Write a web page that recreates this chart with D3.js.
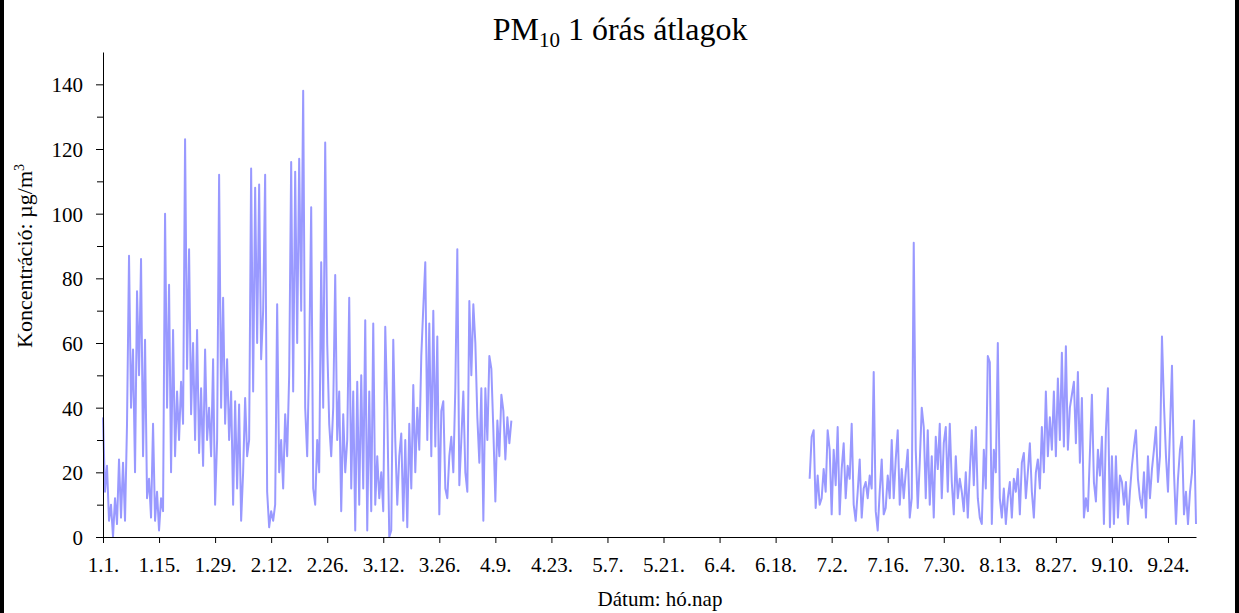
<!DOCTYPE html>
<html>
<head>
<meta charset="utf-8">
<script src="https://cdn.jsdelivr.net/npm/d3@7"></script>
<style>
    body { margin: 0; background: #fff; }
    svg { display: block; }
    text { font-family: "Liberation Serif", "Times New Roman", serif; fill: #000; }
</style>
</head>
<body>
<div id="chart"></div>
<script>
const stepHours = 12;

// 1.1. 00:00 -> 4.13.
const winterStart = '2015-01-01T00:00:00Z';
const winterValues = [
    37, 14, 22, 5, 10, 0, 12, 4, 24, 6, 23, 5, 35, 87, 40, 58, 20, 76, 50, 86,
    25, 61, 12, 18, 6, 35, 5, 14, 2, 12, 8, 100, 40, 78, 20, 64, 25, 45, 30, 48,
    35, 123, 52, 89, 38, 60, 30, 64, 26, 46, 22, 58, 30, 40, 25, 55, 10, 30, 112, 40,
    74, 35, 55, 30, 45, 10, 42, 15, 41, 5, 20, 43, 25, 30, 114, 45, 108, 60, 109, 55,
    70, 112, 14, 3, 8, 5, 10, 72, 20, 30, 15, 38, 25, 50, 116, 45, 113, 60, 117, 70,
    138, 40, 25, 55, 102, 15, 10, 30, 20, 85, 40, 122, 60, 35, 25, 40, 81, 30, 45, 8,
    38, 20, 30, 74, 15, 45, 2, 48, 10, 50, 15, 67, 2, 45, 8, 66, 10, 25, 12, 20,
    8, 65, 40, 0, 2, 61, 30, 10, 25, 32, 5, 30, 3, 35, 15, 47, 20, 40, 27, 56,
    71, 85, 30, 66, 25, 70, 28, 62, 7, 39, 42, 15, 12, 25, 31, 20, 46, 89, 16, 30,
    45, 20, 14, 73, 50, 72, 60, 37, 23, 46, 5, 46, 30, 56, 52, 33, 11, 36, 25, 44,
    39, 24, 37, 29, 36
];

// 6.26. 12:00 -> 10.1.
const summerStart = '2015-06-26T12:00:00Z';
const summerValues = [
    18, 31, 33, 9, 19, 10, 12, 21, 14, 33, 27, 7, 27, 16, 34, 7, 21, 29, 12, 22,
    18, 35, 10, 5, 14, 24, 6, 15, 17, 12, 19, 15, 51, 8, 2, 14, 24, 7, 9, 19,
    12, 30, 12, 24, 33, 10, 21, 12, 20, 27, 6, 12, 91, 27, 9, 23, 40, 34, 12, 33,
    10, 25, 6, 31, 21, 35, 12, 29, 34, 14, 35, 17, 7, 25, 12, 18, 14, 8, 20, 6,
    20, 33, 16, 34, 12, 6, 4, 27, 15, 56, 54, 4, 27, 20, 60, 12, 6, 15, 4, 12,
    17, 6, 18, 14, 21, 7, 23, 26, 12, 20, 29, 14, 6, 20, 24, 15, 34, 20, 45, 25,
    37, 27, 45, 25, 49, 30, 57, 28, 59, 27, 40, 44, 48, 29, 51, 23, 43, 6, 12, 8,
    26, 44, 17, 11, 27, 19, 31, 4, 33, 46, 3, 25, 4, 25, 6, 19, 17, 10, 17, 4,
    14, 22, 28, 33, 18, 12, 9, 20, 6, 25, 12, 21, 27, 34, 17, 25, 62, 41, 25, 14,
    33, 53, 20, 4, 18, 27, 31, 7, 14, 4, 14, 20, 36, 4
];

const xStart = '2015-01-01T00:00:00Z';
const xEnd = '2015-10-01T00:00:00Z';
const xTickLabels = ['1.1.', '1.15.', '1.29.', '2.12.', '2.26.', '3.12.', '3.26.', '4.9.', '4.23.', '5.7.',
    '5.21.', '6.4.', '6.18.', '7.2.', '7.16.', '7.30.', '8.13.', '8.27.', '9.10.', '9.24.'];
const yTicks = [0, 20, 40, 60, 80, 100, 120, 140];
const yMinorTicks = [10, 30, 50, 70, 90, 110, 130];

const width = 1239;
const height = 613;
const margin = { top: 52, right: 43, bottom: 76, left: 103 };

function toSeries(start, values) {
    let t0 = new Date(start).getTime();
    return values.map(function(v, i) {
        return { date: new Date(t0 + i * stepHours * 3600 * 1000), value: v };
    });
}

const svg = d3.select('#chart')
    .append('svg')
    .attr('width', width)
    .attr('height', height);

svg.append('rect')
    .attr('width', width)
    .attr('height', height)
    .attr('fill', '#fff');

// dark strips along the left and right edge of the picture
svg.append('rect').attr('x', 0).attr('y', 0).attr('width', 4).attr('height', height).attr('fill', '#000');
svg.append('rect').attr('x', width - 4).attr('y', 0).attr('width', 4).attr('height', height).attr('fill', '#000');

const x = d3.scaleUtc()
    .domain([new Date(xStart), new Date(xEnd)])
    .range([margin.left, width - margin.right]);

const y = d3.scaleLinear()
    .domain([0, 150])
    .range([height - margin.bottom, margin.top]);

const tickDates = d3.utcDay.range(new Date(xStart), new Date(xEnd), 14);

// line
const line = d3.line()
    .x(function(d) { return x(d.date); })
    .y(function(d) { return y(d.value); });

[toSeries(winterStart, winterValues), toSeries(summerStart, summerValues)].forEach(function(series) {
    svg.append('path')
        .datum(series)
        .attr('fill', 'none')
        .attr('stroke', '#9999ff')
        .attr('stroke-width', 2)
        .attr('stroke-linejoin', 'round')
        .attr('d', line);
});

// y axis
const yAxis = svg.append('g')
    .attr('transform', `translate(${margin.left},0)`)
    .call(d3.axisLeft(y).tickValues(yTicks).tickSize(7).tickPadding(13).tickSizeOuter(0));

svg.append('g')
    .attr('transform', `translate(${margin.left},0)`)
    .call(d3.axisLeft(y).tickValues(yMinorTicks).tickSize(6).tickFormat('').tickSizeOuter(0))
    .select('.domain').remove();

// x axis
const xAxis = svg.append('g')
    .attr('transform', `translate(0,${height - margin.bottom})`)
    .call(d3.axisBottom(x)
        .tickValues(tickDates)
        .tickSize(6)
        .tickPadding(14)
        .tickSizeOuter(0)
        .tickFormat(function(d, i) { return xTickLabels[i]; }));

[xAxis, yAxis].forEach(function(g) {
    g.selectAll('text')
        .style('font-family', '"Liberation Serif", serif')
        .style('font-size', '21px')
        .attr('fill', '#000');
    g.selectAll('line, path').attr('stroke', '#000');
});
yAxis.selectAll('text').attr('dy', '0.35em');

// title
const title = svg.append('text')
    .attr('x', 620)
    .attr('y', 40)
    .attr('text-anchor', 'middle')
    .style('font-size', '32px');
title.append('tspan').text('PM');
title.append('tspan').attr('dy', 7).style('font-size', '21px').text('10');
title.append('tspan').attr('dy', -7).text(' 1 órás átlagok');

// axis titles
svg.append('text')
    .attr('x', 660)
    .attr('y', 606)
    .attr('text-anchor', 'middle')
    .style('font-size', '21px')
    .text('Dátum: hó.nap');

const yLabel = svg.append('text')
    .attr('transform', 'translate(32,256) rotate(-90)')
    .attr('text-anchor', 'middle')
    .style('font-size', '22px');
yLabel.append('tspan').text('Koncentráció: µg/m');
yLabel.append('tspan').attr('dy', -8).style('font-size', '14px').text('3');
</script>
</body>
</html>
